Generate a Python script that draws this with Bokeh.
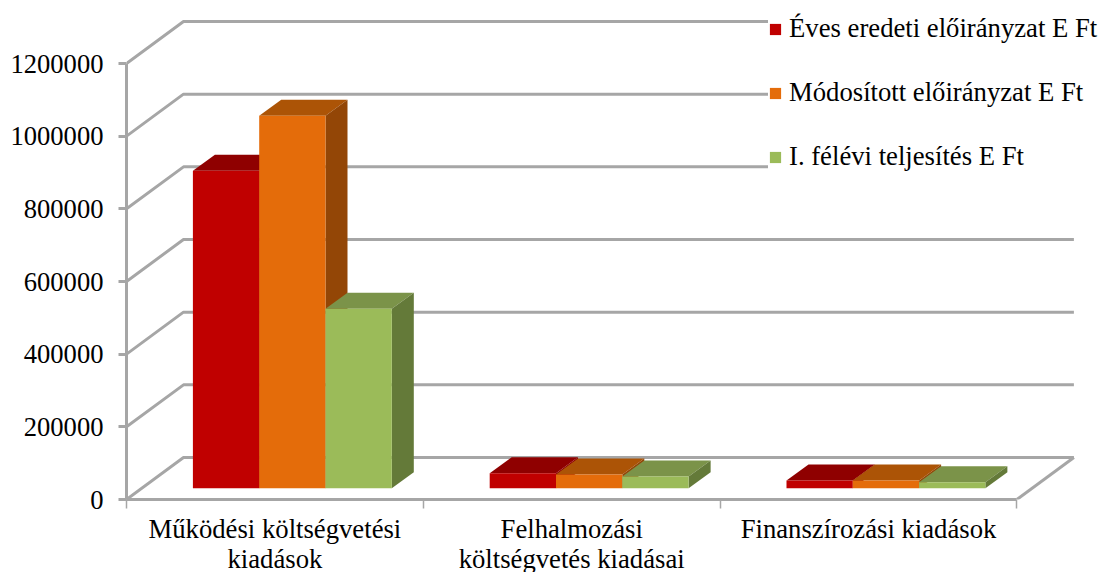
from bokeh.embed import file_html
from bokeh.models import Range1d, LinearAxis, FixedTicker, NumeralTickFormatter, Legend, LegendItem
from bokeh.plotting import figure
from bokeh.resources import INLINE

categories = ["Működési költségvetési\nkiadások", "Felhalmozási\nköltségvetés kiadásai", "Finanszírozási kiadások"]
series_names = ["Éves eredeti előirányzat E Ft", "Módosított előirányzat E Ft", "I. félévi teljesítés E Ft"]
eves = [874000, 41000, 21000]
modositott = [1025000, 38000, 21000]
teljesites = [494000, 32000, 16500]
y_ticks = [0, 200000, 400000, 600000, 800000, 1000000, 1200000]
front_colors = ["#C00000", "#E46C0A", "#9BBB59"]
top_colors = ["#8F0000", "#AC5406", "#7B9349"]
side_colors = ["#8F0000", "#934606", "#647A39"]

W, H = 1102, 572
LEFT, BOTTOM_PAD = 126, 73
PX_X = 296.8            # pixels per category
PX_Y = 436 / 1200000    # pixels per value unit
frame_w = W - LEFT
frame_h = H - BOTTOM_PAD

def ux(px):
    return px / PX_X

def uy(px):
    return px / PX_Y

p = figure(width=W, height=H, output_backend="svg", toolbar_location=None,
           x_range=Range1d(0, ux(frame_w)), y_range=Range1d(0, uy(frame_h)),
           x_axis_type=None, y_axis_type=None,
           frame_width=frame_w, frame_height=frame_h,
           min_border_left=LEFT, min_border_right=0, min_border_top=0, min_border_bottom=0)
p.outline_line_color = None
p.background_fill_color = "white"
p.border_fill_color = "white"
p.grid.visible = False

GRAY = "#A6A6A6"
FONT = "Liberation Serif"

# walls and floor: 3D gridlines
wall_dx, wall_dy = ux(57), uy(42)
n = len(categories)
xs, ys = [], []
for t in y_ticks:
    xs.append([0, wall_dx, n + wall_dx])
    ys.append([t, t + wall_dy, t + wall_dy])
xs.append([n, n + wall_dx])
ys.append([0, wall_dy])
p.multi_line(xs, ys, line_color=GRAY, line_width=3)

# bars
bar_w = ux(66.3)
bar_off_x = ux(66.4)
depth_x, depth_y = ux(22), uy(16)
base_y = uy(11.3)
legend_items = []
for s, vals in enumerate([eves, modositott, teljesites]):
    lefts = [i + bar_off_x + s * bar_w for i in range(n)]
    rights = [l + bar_w for l in lefts]
    tops = [base_y + v for v in vals]
    p.patches([[l, l + depth_x, r + depth_x, r] for l, r in zip(lefts, rights)],
              [[t, t + depth_y, t + depth_y, t] for t in tops],
              fill_color=top_colors[s], line_color=None)
    p.patches([[r, r + depth_x, r + depth_x, r] for r in rights],
              [[base_y, base_y + depth_y, t + depth_y, t] for t in tops],
              fill_color=side_colors[s], line_color=None)
    q = p.quad(left=lefts, right=rights, bottom=[base_y] * n, top=tops,
               fill_color=front_colors[s], line_color=None)
    legend_items.append(LegendItem(label=series_names[s], renderers=[q]))

# axes
yax = LinearAxis(ticker=FixedTicker(ticks=y_ticks), formatter=NumeralTickFormatter(format="0"),
                 bounds=(0, 1200000))
yax.axis_line_color = GRAY
yax.axis_line_width = 3
yax.major_tick_line_color = GRAY
yax.major_tick_line_width = 3
yax.major_tick_in = 0
yax.major_tick_out = 8
yax.minor_tick_line_color = None
yax.major_label_standoff = 15
yax.major_label_text_font = FONT
yax.major_label_text_font_size = "26.6px"
yax.major_label_text_color = "black"
p.add_layout(yax, "left")

xax = LinearAxis(ticker=FixedTicker(ticks=[i + 0.5 for i in range(n)], minor_ticks=list(range(n + 1))),
                 major_label_overrides={i + 0.5: c for i, c in enumerate(categories)},
                 bounds=(0, n))
xax.axis_line_color = GRAY
xax.axis_line_width = 3
xax.major_tick_line_color = None
xax.major_tick_in = 0
xax.major_tick_out = 0
xax.minor_tick_line_color = GRAY
xax.minor_tick_line_width = 1.5
xax.minor_tick_in = 0
xax.minor_tick_out = 9
xax.major_label_standoff = 5
xax.major_label_text_font = FONT
xax.major_label_text_font_size = "26.7px"
xax.major_label_text_line_height = 1.0
xax.major_label_text_color = "black"
p.add_layout(xax, "below")

legend = Legend(items=legend_items, location=(642, 327), orientation="vertical",
                background_fill_color="white", background_fill_alpha=1,
                border_line_color=None, margin=0, padding=10,
                glyph_width=14, glyph_height=14, label_standoff=7,
                label_height=20, spacing=33,
                label_text_font=FONT, label_text_font_size="26.7px", label_text_color="black")
p.add_layout(legend, "center")

open("out.html", "w").write(file_html(p, INLINE))
